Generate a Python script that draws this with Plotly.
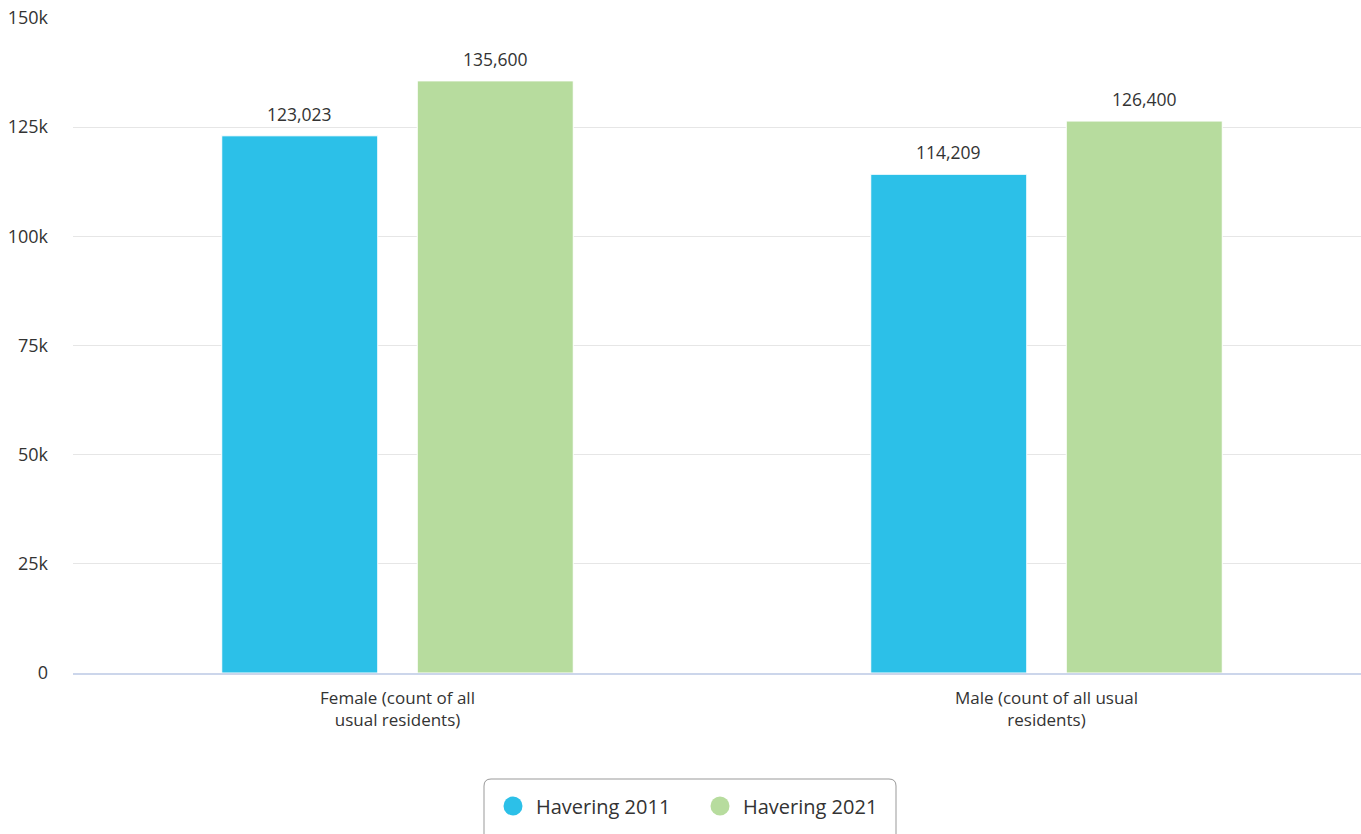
import plotly.graph_objects as go

categories = ["Female (count of all<br>usual residents)", "Male (count of all usual<br>residents)"]
series_names = ["Havering 2011", "Havering 2021"]
havering_2011 = [123023, 114209]
havering_2021 = [135600, 126400]
y_tickvals = [0, 25000, 50000, 75000, 100000, 125000, 150000]
y_ticktext = ["0", "25k", "50k", "75k", "100k", "125k", "150k"]

colors = ["#2CC0E8", "#B7DC9E"]
FONT = "Open Sans"
TXT = "#333333"

W, H = 1371, 834
ML, MR, MT, MB = 73, 0, 18, 161
PW = W - ML - MR
PH = H - MT - MB

fig = go.Figure()
for name, vals, col in zip(series_names, [havering_2011, havering_2021], colors):
    fig.add_trace(go.Bar(
        x=categories, y=vals, name=name, marker=dict(color=col, line=dict(color="white", width=1)),
        showlegend=False, hoverinfo="skip",
    ))

bargap = 0.3975
bargroupgap = 0.202
slot_px = PW / len(categories) * (1 - bargap) / 2
annotations = []
for si, vals in enumerate([havering_2011, havering_2021]):
    shift = (si - 0.5) * slot_px
    for c, v in zip(categories, vals):
        annotations.append(dict(
            x=c, y=v, xref="x", yref="y", text=f"{v:,}", showarrow=False,
            xshift=shift, yshift=8, yanchor="bottom",
            font=dict(family=FONT, size=17.5, color=TXT),
        ))

def px_x(p):
    return (p - ML) / PW
def px_y(p):
    return (H - MB - p) / PH

# legend box (rounded) and entries
x0, x1 = px_x(484), px_x(896)
y0, y1 = px_y(779), px_y(860)
rx, ry = 7 / PW, 7 / PH
path = (f"M {x0+rx},{y0} L {x1-rx},{y0} Q {x1},{y0} {x1},{y0-ry} "
        f"L {x1},{y1+ry} Q {x1},{y1} {x1-rx},{y1} L {x0+rx},{y1} Q {x0},{y1} {x0},{y1+ry} "
        f"L {x0},{y0-ry} Q {x0},{y0} {x0+rx},{y0} Z")
shapes = [dict(type="path", path=path, xref="paper", yref="paper",
               line=dict(color="#999999", width=1), fillcolor="rgba(0,0,0,0)")]
legend_circle_px = [513, 720]
legend_y_px = 806
for name, col, cx in zip(series_names, colors, legend_circle_px):
    shapes.append(dict(
        type="circle", xref="paper", yref="paper", xsizemode="pixel", ysizemode="pixel",
        xanchor=px_x(cx), yanchor=px_y(legend_y_px), x0=-9.5, x1=9.5, y0=-9.5, y1=9.5,
        fillcolor=col, line=dict(width=0),
    ))
    annotations.append(dict(
        x=px_x(cx + 21), y=px_y(legend_y_px), xref="paper", yref="paper", text=name,
        showarrow=False, xanchor="left", yanchor="middle",
        font=dict(family=FONT, size=20, color=TXT),
    ))

fig.update_layout(
    width=W, height=H,
    margin=dict(l=ML, r=MR, t=MT, b=MB),
    paper_bgcolor="white", plot_bgcolor="white",
    barmode="group", bargap=bargap, bargroupgap=bargroupgap,
    font=dict(family=FONT, color=TXT),
    showlegend=False,
    annotations=annotations,
    shapes=shapes,
    xaxis=dict(
        showgrid=False, showline=True, linecolor="#CCD6EB", linewidth=1.5,
        tickfont=dict(family=FONT, size=17, color=TXT), ticks="", ticklabelstandoff=9,
    ),
    yaxis=dict(
        range=[0, 150000], tickvals=y_tickvals, ticktext=y_ticktext,
        showgrid=True, gridcolor="#E6E6E6", gridwidth=1, zeroline=False,
        tickfont=dict(family=FONT, size=18, color=TXT), ticklabelstandoff=24,
        showline=False,
    ),
)

fig.write_html("out.html", config={"displayModeBar": False},
               post_script="document.body.style.margin='0';document.body.style.overflow='hidden';")
